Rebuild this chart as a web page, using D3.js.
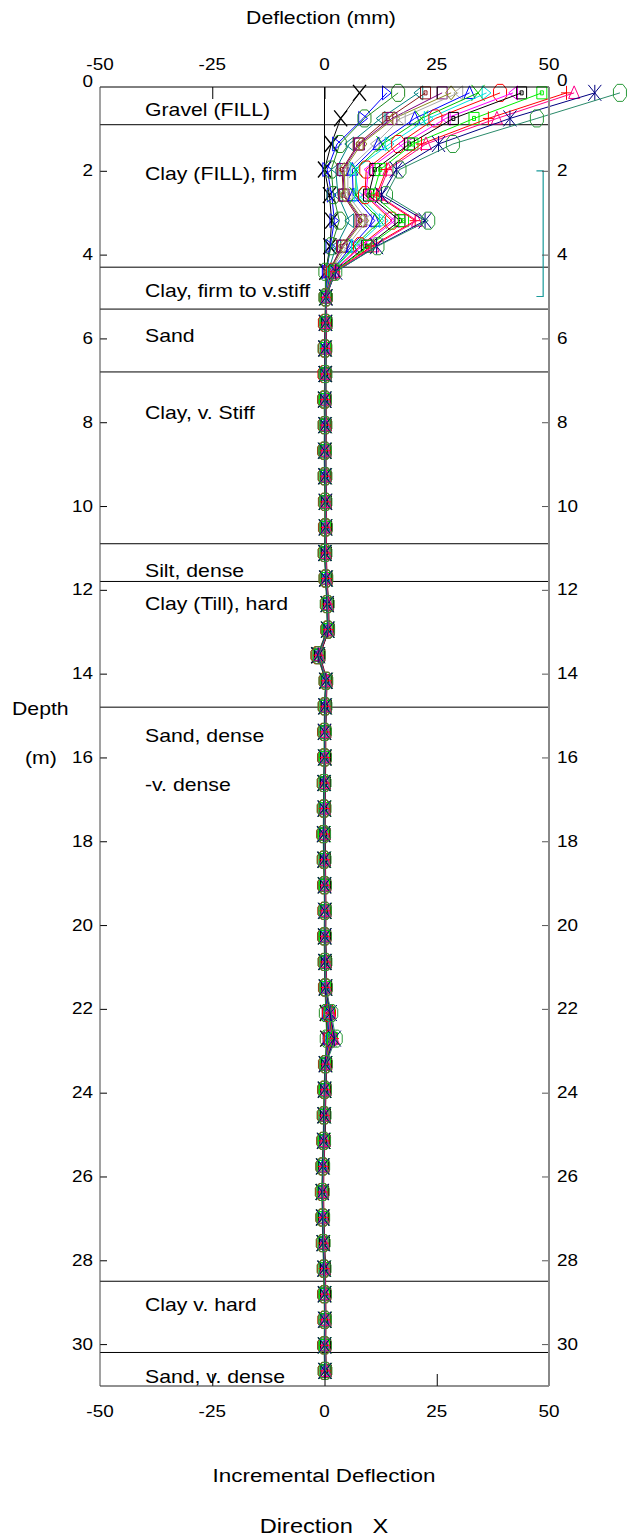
<!DOCTYPE html>
<html>
<head>
<meta charset="utf-8">
<script src="https://cdn.jsdelivr.net/npm/d3@7"></script>
<style>
  body { margin: 0; background: #fff; }
  svg text { font-family: "Liberation Sans", Arial, sans-serif; fill: #000; white-space: pre; }
</style>
</head>
<body>
<div id="chart"></div>
<script>
// reading depths (m)
const depths = [0.14,0.75,1.36,1.97,2.58,3.19,3.80,4.41,5.02,5.63,6.24,6.85,7.46,8.07,8.68,9.29,9.90,10.51,11.12,11.73,
  12.34,12.95,13.56,14.17,14.78,15.39,16.00,16.61,17.22,17.83,18.44,19.05,19.66,20.27,20.88,21.49,22.10,22.71,23.32,23.93,
  24.54,25.15,25.76,26.37,26.98,27.59,28.20,28.81,29.42,30.03,30.64];

// incremental deflection (mm), one array per reading
const s01 = [7.8,3.6,1.5,0.0,1.1,1.6,1.2,0.3,0.3, 0.2,0.1,0.2,0.0,0.1,0.1,0.1,0.2,0.2,0.1,0.3,0.6,0.7,-1.5,0.3,0.1,0.0,0.1,-0.1,0.0,-0.2,-0.1,0.0,0.1,0.0,0.1,0.2,0.4,0.5,0.2,0.0,-0.1,-0.2,-0.4,-0.5,-0.4,-0.3,-0.1,0.0,0.1,0.0,0.1];
const s02 = [13.9,8.6,2.8,0.6,1.6,2.2,1.3,0.5,0.3, 0.4,0.3,0.2,0.2,0.3,0.2,0.2,0.3,0.3,0.3,0.5,0.8,0.9,-1.2,0.5,0.3,0.2,0.1,0.1,0.0,0.0,0.1,0.1,0.2,0.1,0.3,0.3,0.7,0.9,0.4,0.2,0.1,0.0,-0.2,-0.3,-0.2,-0.1,0.1,0.1,0.2,0.1,0.3];
const s03 = [16.4,8.9,3.4,1.5,2.0,3.3,1.5,0.2,0.2, 0.1,0.0,0.1,-0.1,0.0,-0.1,0.0,0.1,0.1,0.0,0.2,0.5,0.6,-1.6,0.2,0.0,-0.1,-0.1,-0.2,-0.2,-0.3,-0.2,-0.1,0.0,-0.1,0.0,0.1,0.3,0.5,0.1,-0.1,-0.2,-0.3,-0.5,-0.6,-0.5,-0.4,-0.2,-0.1,0.0,-0.1,0.0];
const s04 = [20.9,12.5,5.5,2.5,3.0,5.5,2.6,0.8,0.3, 0.3,0.2,0.3,0.1,0.2,0.2,0.2,0.2,0.4,0.2,0.4,0.7,0.8,-1.3,0.4,0.2,0.1,0.2,0.0,0.1,-0.1,0.0,0.1,0.1,0.2,0.2,0.3,0.6,0.9,0.3,0.1,0.0,-0.1,-0.3,-0.4,-0.3,-0.2,0.0,0.1,0.1,0.1,0.2];
const s05 = [22.5,14.1,7.5,3.9,4.2,7.9,3.8,1.0,0.4, 0.5,0.4,0.3,0.3,0.4,0.3,0.3,0.4,0.5,0.4,0.6,0.9,1.0,-1.0,0.6,0.4,0.3,0.3,0.2,0.2,0.1,0.2,0.3,0.3,0.3,0.4,0.5,0.8,1.0,0.5,0.3,0.2,0.1,-0.1,-0.2,-0.1,0.0,0.2,0.3,0.3,0.3,0.4];
const s06 = [26.2,15.0,7.8,4.1,4.4,8.3,4.0,1.0,0.3, 0.2,0.2,0.1,0.1,0.1,0.0,0.2,0.1,0.2,0.2,0.3,0.7,0.7,-1.4,0.3,0.2,0.1,0.0,0.0,-0.1,-0.1,0.0,0.0,0.1,0.1,0.1,0.2,0.6,0.8,0.2,0.1,-0.1,-0.1,-0.3,-0.4,-0.4,-0.2,0.0,0.0,0.1,0.0,0.2];
const s07 = [28.2,15.5,8.2,4.4,4.6,8.6,4.3,1.1,0.3, 0.3,0.3,0.2,0.2,0.2,0.1,0.3,0.2,0.3,0.2,0.4,0.8,0.8,-1.2,0.4,0.3,0.1,0.1,0.1,0.0,-0.1,0.1,0.1,0.1,0.2,0.2,0.4,0.7,0.9,0.3,0.2,0.0,-0.1,-0.2,-0.4,-0.3,-0.1,0.0,0.2,0.1,0.2,0.2];
const s08 = [29.8,17.0,11.2,5.2,5.2,9.5,5.0,1.2,0.3, 0.4,0.2,0.2,0.2,0.3,0.1,0.2,0.3,0.3,0.3,0.4,0.7,0.9,-1.2,0.4,0.2,0.2,0.1,0.0,0.1,0.0,0.0,0.2,0.1,0.1,0.3,0.3,0.8,1.0,0.3,0.1,0.1,0.0,-0.3,-0.3,-0.2,-0.2,0.1,0.1,0.2,0.1,0.2];
const s09 = [32.3,20.1,12.0,6.2,6.4,11.2,6.0,1.4,0.3, 0.2,0.1,0.2,0.1,0.1,0.1,0.1,0.2,0.2,0.2,0.3,0.6,0.7,-1.4,0.3,0.1,0.1,0.0,-0.1,0.0,-0.1,-0.1,0.1,0.0,0.1,0.1,0.2,0.7,1.0,0.2,0.0,0.0,-0.2,-0.4,-0.4,-0.3,-0.3,-0.1,0.1,0.0,0.1,0.1];
const s10 = [34.2,21.6,13.0,7.0,7.0,12.4,6.6,1.6,0.3, 0.3,0.2,0.1,0.1,0.2,0.1,0.2,0.2,0.3,0.2,0.4,0.6,0.8,-1.3,0.4,0.2,0.0,0.1,0.0,0.0,-0.1,0.0,0.0,0.1,0.1,0.2,0.3,0.9,1.2,0.3,0.1,0.0,-0.1,-0.3,-0.5,-0.3,-0.2,0.0,0.1,0.1,0.1,0.2];
const s11 = [36.1,23.2,14.5,6.7,7.6,13.2,7.0,1.7,0.4, 0.4,0.3,0.3,0.2,0.2,0.2,0.3,0.3,0.4,0.3,0.5,0.8,0.9,-1.2,0.5,0.3,0.2,0.2,0.1,0.1,0.0,0.1,0.2,0.2,0.2,0.3,0.4,0.9,1.3,0.4,0.2,0.1,0.0,-0.2,-0.3,-0.2,-0.1,0.1,0.2,0.2,0.2,0.3];
const s12 = [39.1,24.7,16.4,9.3,9.0,15.0,7.9,1.9,0.3, 0.1,0.1,0.0,0.0,0.1,0.0,0.1,0.1,0.2,0.1,0.3,0.6,0.7,-1.5,0.3,0.1,0.0,0.0,-0.1,-0.1,-0.2,-0.1,0.0,0.0,0.0,0.1,0.2,1.0,1.4,0.2,0.0,-0.1,-0.2,-0.4,-0.5,-0.4,-0.3,-0.1,0.0,0.0,0.0,0.1];
const s13 = [42.0,27.0,17.5,9.8,9.2,15.6,8.3,2.0,0.3, 0.3,0.2,0.2,0.2,0.2,0.1,0.2,0.3,0.3,0.2,0.4,0.7,0.8,-1.3,0.4,0.2,0.1,0.1,0.0,0.0,-0.1,0.0,0.1,0.1,0.1,0.2,0.3,1.0,1.5,0.3,0.1,0.0,-0.1,-0.3,-0.4,-0.3,-0.2,0.0,0.1,0.1,0.1,0.2];
const s14 = [43.9,28.7,18.9,11.2,9.8,16.8,9.4,2.1,0.4, 0.5,0.3,0.3,0.3,0.3,0.3,0.3,0.4,0.4,0.4,0.5,0.9,1.0,-1.1,0.5,0.4,0.2,0.2,0.2,0.1,0.1,0.2,0.2,0.3,0.2,0.4,0.4,1.1,1.7,0.4,0.3,0.2,0.1,-0.2,-0.3,-0.2,0.0,0.2,0.2,0.3,0.2,0.3];
const s15 = [48.4,33.3,19.7,12.4,10.8,17.6,9.8,2.2,0.3, 0.2,0.2,0.1,0.0,0.1,0.1,0.1,0.1,0.2,0.1,0.3,0.6,0.7,-1.4,0.3,0.1,0.1,0.0,-0.1,-0.1,-0.2,-0.1,0.0,0.1,0.0,0.1,0.2,1.1,1.8,0.2,0.0,-0.1,-0.2,-0.4,-0.5,-0.4,-0.3,-0.1,0.0,0.1,0.0,0.1];
const s16 = [53.9,36.5,21.6,13.8,11.6,20.2,10.5,2.3,0.3, 0.3,0.2,0.2,0.1,0.2,0.2,0.2,0.2,0.3,0.3,0.4,0.7,0.8,-1.3,0.4,0.2,0.1,0.1,0.0,0.0,0.0,0.0,0.1,0.1,0.1,0.2,0.3,1.2,2.0,0.3,0.1,0.0,-0.1,-0.3,-0.4,-0.3,-0.2,0.0,0.1,0.1,0.1,0.2];
const s17 = [55.6,38.4,22.6,14.2,11.9,20.6,10.9,2.4,0.4, 0.4,0.3,0.2,0.2,0.3,0.2,0.3,0.3,0.4,0.3,0.5,0.8,0.9,-1.2,0.5,0.3,0.2,0.1,0.1,0.1,0.0,0.1,0.2,0.2,0.2,0.3,0.4,1.3,2.1,0.4,0.2,0.1,0.0,-0.2,-0.3,-0.2,-0.1,0.1,0.2,0.2,0.2,0.3];
const s18 = [60.2,41.3,25.4,16.0,12.7,22.4,11.6,2.5,0.3, 0.2,0.1,0.1,0.1,0.1,0.0,0.1,0.2,0.2,0.1,0.3,0.6,0.7,-1.4,0.3,0.1,0.0,0.0,-0.1,-0.1,-0.2,-0.1,0.0,0.0,0.1,0.1,0.2,1.3,2.2,0.2,0.0,-0.1,-0.2,-0.4,-0.5,-0.4,-0.3,-0.1,0.0,0.0,0.0,0.1];
const s19 = [65.8,47.3,28.6,16.7,13.7,23.1,11.8,2.4,0.3, 0.3,0.2,0.2,0.1,0.2,0.1,0.2,0.2,0.3,0.2,0.4,0.7,0.8,-1.3,0.4,0.2,0.1,0.1,0.0,0.0,-0.1,0.0,0.1,0.1,0.1,0.2,0.3,1.5,2.5,0.3,0.1,0.0,-0.1,-0.3,-0.4,-0.3,-0.2,0.0,0.1,0.1,0.1,0.2];

const seriesValues  = [s01,s02,s03,s04,s05,s06,s07,s08,s09,s10,s11,s12,s13,s14,s15,s16,s17,s18,s19];
const seriesColors  = ["#000000","#0000ff","#228b22","#008080","#8b1a1a","#800080","#8a8a20","#a9a9a9","#0000ff","#00c000",
                       "#00e0e0","#ff0000","#ff00ff","#000000","#00ee00","#ff0000","#ff0088","#000080","#2a9a3a"];
const lineColors    = ["#000000","#0000ff","#228b22","#008080","#8b1a1a","#800080","#8a8a20","#a9a9a9","#0000ff","#00c000",
                       "#00e0e0","#ff0000","#ff00ff","#000000","#00ee00","#ff0000","#ff0088","#000080","#2a8a6a"];
const seriesMarkers = ["x","triR","oct","triL","sqDot","sq","diamond","triL","triU","x",
                       "triR","oct","triL","sqDot","sqDot","plus","triU","star","oct"];

// soil strata
const layerBottoms = [0.9, 4.3, 5.3, 6.8, 10.9, 11.8, 14.8, 28.5, 30.2];
const layerLabels  = ["Gravel (FILL)","Clay (FILL), firm","Clay, firm to v.stiff","Sand","Clay, v. Stiff","Silt, dense",
                      "Clay (Till), hard","Sand, dense","-v. dense","Clay v. hard","Sand, v. dense"];
const labelDepths  = [0.55, 2.08, 4.87, 5.94, 7.78, 11.55, 12.34, 15.47, 16.66, 29.05, 30.77];

const xTicks = [-50, -25, 0, 25, 50];
const yTicks = [2,4,6,8,10,12,14,16,18,20,22,24,26,28,30];

const STRETCH = 1.18;
const W = 642, H = 1539;
const svg = d3.select("#chart").append("svg").attr("width", W).attr("height", H);

const x = d3.scaleLinear().domain([-50, 50]).range([100, 549]);
const y = d3.scaleLinear().domain([0, 31]).range([87, 1386]);

function label(txt, px, py, size, anchor) {
  svg.append("text")
    .attr("transform", `translate(${px},${py}) scale(${STRETCH},1)`)
    .attr("text-anchor", anchor || "start")
    .attr("dy", "0.35em")
    .style("font-size", size + "px")
    .text(txt);
}

function markerPath(type) {
  let w = 11, h = 14;
  if (type === "oct") { w = 13; h = 17; }
  if (type === "x" || type === "star") { w = 13; h = 16; }
  const a = w / 2, b = h / 2;
  switch (type) {
    case "x": return `M${-a},${-b}L${a},${b}M${-a},${b}L${a},${-b}`;
    case "star": return `M${-a},${-b}L${a},${b}M${-a},${b}L${a},${-b}M0,${-b}L0,${b}`;
    case "plus": return `M${-a},0L${a},0M0,${-b}L0,${b}`;
    case "oct": {
      const c = w * 0.22, d = h * 0.22;
      return `M${-c},${-b}L${c},${-b}L${a},${-d}L${a},${d}L${c},${b}L${-c},${b}L${-a},${d}L${-a},${-d}Z`;
    }
    case "sq": return `M-5,-6h10v12h-10Z`;
    case "sqDot": return `M-5,-6h10v12h-10ZM-1.5,-2h3v4h-3Z`;
    case "diamond": return `M0,${-b}L${a},0L0,${b}L${-a},0Z`;
    case "triR": return `M${-a * 0.8},${-b}L${a * 0.8},0L${-a * 0.8},${b}Z`;
    case "triL": return `M${a * 0.8},${-b}L${-a * 0.8},0L${a * 0.8},${b}Z`;
    case "triU": return `M0,${-b}L${a},${b * 0.8}L${-a},${b * 0.8}Z`;
  }
}

// strata boundaries
svg.append("g").selectAll("line").data(layerBottoms).join("line")
  .attr("x1", x(-50)).attr("x2", x(50))
  .attr("y1", d => y(d)).attr("y2", d => y(d))
  .attr("stroke", "#000").attr("stroke-width", 1);

// strata labels
layerLabels.forEach((t, i) => label(t, 145, y(labelDepths[i]), 18, "start"));

// zero reference line through the fill
svg.append("line")
  .attr("x1", x(0)).attr("x2", x(0)).attr("y1", y(0)).attr("y2", y(4.3))
  .attr("stroke", "#000").attr("stroke-width", 1);

// bracket at right
svg.append("path")
  .attr("d", `M${x(47.2)},${y(2.0)}H${x(48.7)}V${y(5.0)}H${x(47.2)}`)
  .attr("fill", "none").attr("stroke", "#1a9a9a").attr("stroke-width", 1.2);

// series
const line = d3.line().x(d => x(d[0])).y(d => y(d[1]));
seriesValues.forEach((vals, k) => {
  const pts = vals.map((v, i) => [v, depths[i]]);
  const g = svg.append("g");
  g.append("path").attr("d", line(pts))
    .attr("fill", "none").attr("stroke", lineColors[k]).attr("stroke-width", 1);
  g.selectAll("path.m").data(pts).join("path")
    .attr("class", "m")
    .attr("d", markerPath(seriesMarkers[k]))
    .attr("transform", d => `translate(${x(d[0])},${y(d[1])})`)
    .attr("fill", "none")
    .attr("stroke", seriesColors[k])
    .attr("stroke-width", k === 0 ? 1.4 : 1);
});

// ticks
svg.append("g").attr("transform", `translate(0,${y(0)})`)
  .call(d3.axisTop(x).tickValues([-25, 0, 25]).tickSize(-12).tickFormat(""))
  .call(g => g.select(".domain").remove());
svg.append("g").attr("transform", `translate(0,${y(31)})`)
  .call(d3.axisBottom(x).tickValues([-25, 0, 25]).tickSize(-12).tickFormat(""))
  .call(g => g.select(".domain").remove());
svg.append("g").attr("transform", `translate(${x(-50)},0)`)
  .call(d3.axisLeft(y).tickValues(yTicks).tickSize(-7).tickFormat(""))
  .call(g => g.select(".domain").remove());
svg.append("g").attr("transform", `translate(${x(50)},0)`)
  .call(d3.axisRight(y).tickValues(yTicks).tickSize(-7).tickFormat(""))
  .call(g => g.select(".domain").remove())
  .call(g => g.selectAll("line").attr("stroke", "#555"));

// frame
svg.append("line").attr("x1", x(-50)).attr("x2", x(50)).attr("y1", y(0)).attr("y2", y(0)).attr("stroke", "#000");
svg.append("line").attr("x1", x(-50)).attr("x2", x(50)).attr("y1", y(31)).attr("y2", y(31)).attr("stroke", "#222");
svg.append("line").attr("x1", x(-50)).attr("x2", x(-50)).attr("y1", y(0)).attr("y2", y(31)).attr("stroke", "#444");
svg.append("line").attr("x1", x(50)).attr("x2", x(50)).attr("y1", y(0)).attr("y2", y(31)).attr("stroke", "#888").attr("stroke-width", 2);

// tick labels
xTicks.forEach(v => {
  label(String(v), x(v), 64, 16, "middle");
  label(String(v), x(v), 1411, 16, "middle");
});
yTicks.forEach(v => {
  label(String(v), 93, y(v), 16, "end");
  label(String(v), 557, y(v), 16, "start");
});
label("0", 93, 81, 16, "end");
label("0", 557, 80, 16, "start");

// titles
label("Deflection (mm)", 321, 18, 18, "middle");
label("Depth", 12, 709, 18, "start");
label("(m)", 25, 758, 18, "start");
label("Incremental Deflection", 324, 1475, 19, "middle");
label("Direction   X", 324, 1526, 20, "middle");
</script>
</body>
</html>
